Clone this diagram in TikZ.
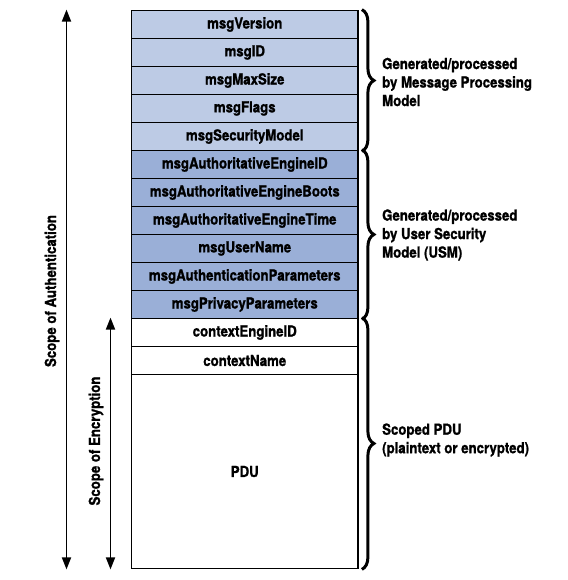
\documentclass[tikz,border=0pt]{standalone}
\usepackage{fontspec}
\setmainfont{TeX Gyre Heros}[FakeStretch=0.87,BoldFeatures={FakeBold=1.2}]
\usetikzlibrary{arrows.meta,decorations.pathreplacing}
\definecolor{lightrow}{RGB}{189,203,229}
\definecolor{darkrow}{RGB}{154,175,215}
\begin{document}
\begin{tikzpicture}[x=1pt,y=-1pt,
  every node/.style={font=\fontsize{15.2}{18.5}\selectfont\bfseries},
  fieldrow/.style={draw=black,line width=1.8pt,minimum width=226.5pt,minimum height=28pt,inner sep=0pt,anchor=center},
  lightfield/.style={fieldrow,fill=lightrow},
  darkfield/.style={fieldrow,fill=darkrow},
  whitefield/.style={fieldrow,fill=white},
  scopearrow/.style={line width=1.8pt,{Triangle[length=12pt,width=9pt]}-{Triangle[length=12pt,width=9pt]}},
  bigbrace/.style={line width=3pt,decorate,decoration={brace,amplitude=12pt,aspect=0.5}},
  sidelabel/.style={anchor=west,align=left,inner sep=0pt}]
\useasboundingbox (0,0) rectangle (567,580);
\node[lightfield] (r1) at (244.75,24.5) {msgVersion};
\node[lightfield] (r2) at (244.75,52.5) {msgID};
\node[lightfield] (r3) at (244.75,80.5) {msgMaxSize};
\node[lightfield] (r4) at (244.75,108.5) {msgFlags};
\node[lightfield] (r5) at (244.75,136.5) {msgSecurityModel};
\node[darkfield] (r6) at (244.75,164.5) {msgAuthoritativeEngineID};
\node[darkfield] (r7) at (244.75,192.5) {msgAuthoritativeEngineBoots};
\node[darkfield] (r8) at (244.75,220.5) {msgAuthoritativeEngineTime};
\node[darkfield] (r9) at (244.75,248.5) {msgUserName};
\node[darkfield] (r10) at (244.75,276.5) {msgAuthenticationParameters};
\node[darkfield] (r11) at (244.75,304.5) {msgPrivacyParameters};
\node[whitefield] (r12) at (244.75,332.5) {contextEngineID};
\node[whitefield] (r13) at (244.75,360.5) {contextName};
\node[whitefield,minimum height=194pt] (pdu) at (244.75,471.5) {PDU};
\coordinate (authx) at (66.5,0);
\coordinate (encx) at (110.5,0);
\draw[scopearrow] (authx |- r1.north) -- (authx |- pdu.south);
\draw[scopearrow] (encx |- r12.north) -- (encx |- pdu.south);
\node[rotate=90] (authlbl) at (52,291) {Scope of Authentication};
\node[rotate=90] (enclbl) at (96,441) {Scope of Encryption};
\draw[bigbrace] ([xshift=3pt]r1.north east) -- ([xshift=3pt]r5.south east);
\draw[bigbrace] ([xshift=3pt]r6.north east) -- ([xshift=3pt]r11.south east);
\draw[bigbrace] ([xshift=3pt]r12.north east) -- ([xshift=3pt]pdu.south east);
\node[sidelabel] (mplbl) at (382,82) {Generated/processed\\by Message Processing\\Model};
\node[sidelabel] (usmlbl) at (382,235) {Generated/processed\\by User Security\\Model (USM)};
\node[sidelabel] (pdulbl) at (382,440) {Scoped PDU\\(plaintext or encrypted)};
\end{tikzpicture}
\end{document}
